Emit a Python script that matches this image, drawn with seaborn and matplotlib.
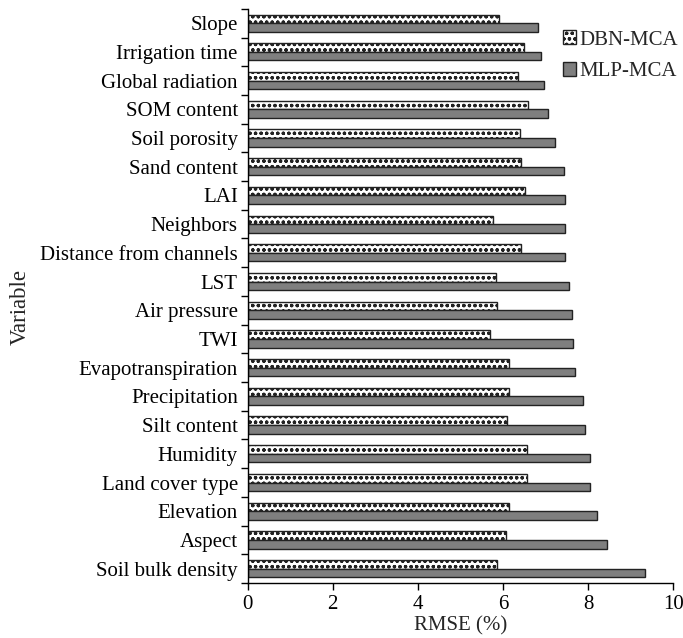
import numpy as np
import pandas as pd
import seaborn as sns
import matplotlib.pyplot as plt
from matplotlib.patches import Patch

variables = ["Slope", "Irrigation time", "Global radiation", "SOM content", "Soil porosity",
             "Sand content", "LAI", "Neighbors", "Distance from channels", "LST",
             "Air pressure", "TWI", "Evapotranspiration", "Precipitation", "Silt content",
             "Humidity", "Land cover type", "Elevation", "Aspect", "Soil bulk density"]
dbn_mca = [5.90, 6.49, 6.34, 6.59, 6.39, 6.41, 6.51, 5.77, 6.41, 5.83,
           5.85, 5.69, 6.15, 6.13, 6.10, 6.56, 6.56, 6.15, 6.07, 5.85]
mlp_mca = [6.82, 6.89, 6.95, 7.05, 7.21, 7.44, 7.45, 7.45, 7.45, 7.54,
           7.62, 7.65, 7.69, 7.88, 7.93, 8.03, 8.03, 8.21, 8.44, 9.33]
models = ["DBN-MCA", "MLP-MCA"]
xticks = [0, 2, 4, 6, 8, 10]

df = pd.DataFrame({
    "Variable": variables * 2,
    "RMSE": dbn_mca + mlp_mca,
    "Model": [models[0]] * len(variables) + [models[1]] * len(variables),
})

sns.set_theme(style="ticks")
plt.rcParams["font.family"] = ["Liberation Serif", "DejaVu Serif"]
plt.rcParams["hatch.linewidth"] = 0.9
plt.rcParams["hatch.color"] = "#111111"

fig = plt.figure(figsize=(6.83, 6.38), dpi=100)
ax = fig.add_axes([0.3624, 0.0862, 0.6236, 0.9])

palette = {"DBN-MCA": "white", "MLP-MCA": "#7f7f7f"}
sns.barplot(data=df, y="Variable", x="RMSE", hue="Model", hue_order=models,
            order=variables, palette=palette, width=0.6, edgecolor="#222222",
            linewidth=1.0, ax=ax, legend=False, saturation=1)

for p in ax.containers[0]:
    p.set_hatch("ooo")

ax.set_xlim(0, 10)
ax.set_xticks(xticks)
ax.set_xticklabels([str(t) for t in xticks])
ax.set_ylim(len(variables) - 0.5, -0.5)
ax.set_yticks(np.arange(-0.5, len(variables)), minor=True)
ax.tick_params(axis="y", which="major", length=0, labelsize=15, pad=7, colors="black")
ax.tick_params(axis="y", which="minor", length=5, width=1, direction="out", color="black")
ax.tick_params(axis="x", which="major", length=5, width=1, labelsize=15, colors="black")
for s in ["top", "right"]:
    ax.spines[s].set_visible(False)
for s in ["left", "bottom"]:
    ax.spines[s].set_color("black")
    ax.spines[s].set_linewidth(1)

ax.set_xlabel("RMSE (%)", fontsize=15, labelpad=2)
ax.set_ylabel("Variable", fontsize=16.5)
ax.yaxis.set_label_coords(-0.508, 0.481)

handles = [Patch(facecolor="white", edgecolor="#222222", hatch="ooo", label="DBN-MCA"),
           Patch(facecolor="#7f7f7f", edgecolor="#222222", label="MLP-MCA")]
ax.legend(handles=handles, loc="upper right", bbox_to_anchor=(1.055, 0.995),
          frameon=False, fontsize=15, handlelength=0.65, handleheight=0.65,
          handletextpad=0.15, labelspacing=0.6)

fig.savefig("out.png", dpi=100)
